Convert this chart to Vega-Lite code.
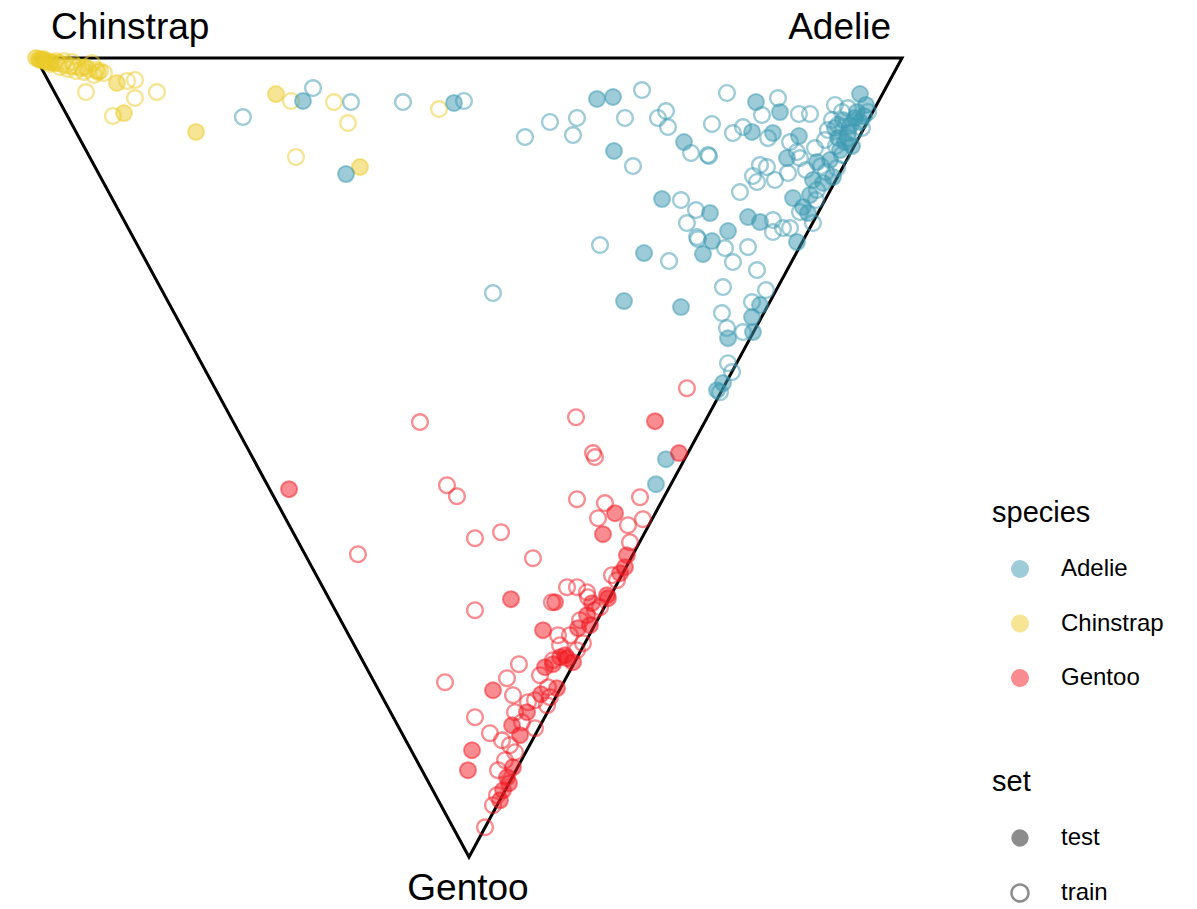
{
  "$schema": "https://vega.github.io/schema/vega-lite/v6.json",
  "width": 866,
  "height": 799,
  "autosize": {"type": "none"},
  "padding": {"left": 36, "top": 58, "right": 295, "bottom": 52},
  "background": "white",
  "config": {"view": {"stroke": null}, "font": "Liberation Sans"},
  "encoding": {
    "x": {"field": "x", "type": "quantitative", "scale": {"domain": [0, 100], "nice": false, "zero": false}, "axis": null},
    "y": {"field": "y", "type": "quantitative", "scale": {"domain": [0, 100], "nice": false, "zero": false, "reverse": true}, "axis": null}
  },
  "layer": [
    {
      "data": {"values": [
        {"corner": "Chinstrap", "order": 1, "x": 0, "y": 0},
        {"corner": "Adelie", "order": 2, "x": 100, "y": 0},
        {"corner": "Gentoo", "order": 3, "x": 50, "y": 100},
        {"corner": "Chinstrap", "order": 4, "x": 0, "y": 0}
      ]},
      "mark": {"type": "line", "color": "black", "strokeWidth": 3, "strokeJoin": "miter", "strokeCap": "square"},
      "encoding": {"order": {"field": "order", "type": "quantitative"}}
    },
    {
      "data": {"values": [
        {"species":"Chinstrap","set":"test","x":0,"y":0},
        {"species":"Chinstrap","set":"test","x":0.35,"y":0.13},
        {"species":"Chinstrap","set":"test","x":0.69,"y":0.25},
        {"species":"Chinstrap","set":"test","x":1.04,"y":0.38},
        {"species":"Chinstrap","set":"test","x":1.39,"y":0.5},
        {"species":"Chinstrap","set":"test","x":1.73,"y":0.5},
        {"species":"Chinstrap","set":"test","x":0.46,"y":0.25},
        {"species":"Chinstrap","set":"test","x":0.92,"y":0.13},
        {"species":"Chinstrap","set":"test","x":2.08,"y":0.63},
        {"species":"Chinstrap","set":"test","x":9.35,"y":3.13},
        {"species":"Chinstrap","set":"test","x":10.16,"y":6.89},
        {"species":"Chinstrap","set":"test","x":18.48,"y":9.26},
        {"species":"Chinstrap","set":"test","x":27.71,"y":4.51},
        {"species":"Chinstrap","set":"test","x":37.41,"y":13.65},
        {"species":"Chinstrap","set":"test","x":7.16,"y":1.75},
        {"species":"Chinstrap","set":"test","x":5.66,"y":1.13},
        {"species":"Chinstrap","set":"train","x":2.54,"y":0.63},
        {"species":"Chinstrap","set":"train","x":3.0,"y":0.75},
        {"species":"Chinstrap","set":"train","x":3.46,"y":0.88},
        {"species":"Chinstrap","set":"train","x":3.93,"y":1.0},
        {"species":"Chinstrap","set":"train","x":4.39,"y":1.0},
        {"species":"Chinstrap","set":"train","x":4.85,"y":1.13},
        {"species":"Chinstrap","set":"train","x":5.31,"y":1.25},
        {"species":"Chinstrap","set":"train","x":6.0,"y":1.38},
        {"species":"Chinstrap","set":"train","x":6.47,"y":0.63},
        {"species":"Chinstrap","set":"train","x":6.93,"y":1.5},
        {"species":"Chinstrap","set":"train","x":7.39,"y":1.63},
        {"species":"Chinstrap","set":"train","x":7.85,"y":1.88},
        {"species":"Chinstrap","set":"train","x":2.77,"y":1.13},
        {"species":"Chinstrap","set":"train","x":3.7,"y":1.38},
        {"species":"Chinstrap","set":"train","x":4.62,"y":1.63},
        {"species":"Chinstrap","set":"train","x":5.54,"y":1.75},
        {"species":"Chinstrap","set":"train","x":6.7,"y":2.13},
        {"species":"Chinstrap","set":"train","x":5.77,"y":4.26},
        {"species":"Chinstrap","set":"train","x":10.51,"y":2.88},
        {"species":"Chinstrap","set":"train","x":11.43,"y":2.75},
        {"species":"Chinstrap","set":"train","x":13.97,"y":4.26},
        {"species":"Chinstrap","set":"train","x":11.43,"y":5.01},
        {"species":"Chinstrap","set":"train","x":8.89,"y":7.26},
        {"species":"Chinstrap","set":"train","x":29.45,"y":5.38},
        {"species":"Chinstrap","set":"train","x":34.41,"y":5.51},
        {"species":"Chinstrap","set":"train","x":36.03,"y":8.14},
        {"species":"Chinstrap","set":"train","x":30.02,"y":12.39},
        {"species":"Chinstrap","set":"train","x":46.54,"y":6.39},
        {"species":"Chinstrap","set":"train","x":1.62,"y":0.75},
        {"species":"Chinstrap","set":"train","x":2.31,"y":0.38},
        {"species":"Chinstrap","set":"train","x":3.23,"y":0.38},
        {"species":"Chinstrap","set":"train","x":4.16,"y":0.5},
        {"species":"Adelie","set":"test","x":30.83,"y":5.38},
        {"species":"Adelie","set":"test","x":35.8,"y":14.52},
        {"species":"Adelie","set":"test","x":48.27,"y":5.63},
        {"species":"Adelie","set":"test","x":64.78,"y":5.13},
        {"species":"Adelie","set":"test","x":66.63,"y":4.88},
        {"species":"Adelie","set":"test","x":66.74,"y":11.64},
        {"species":"Adelie","set":"test","x":74.83,"y":10.52},
        {"species":"Adelie","set":"test","x":83.14,"y":5.51},
        {"species":"Adelie","set":"test","x":85.91,"y":6.76},
        {"species":"Adelie","set":"test","x":95.15,"y":4.51},
        {"species":"Adelie","set":"test","x":95.84,"y":5.88},
        {"species":"Adelie","set":"test","x":82.68,"y":9.26},
        {"species":"Adelie","set":"test","x":85.1,"y":9.39},
        {"species":"Adelie","set":"test","x":88.1,"y":9.77},
        {"species":"Adelie","set":"test","x":86.72,"y":12.52},
        {"species":"Adelie","set":"test","x":90.18,"y":13.02},
        {"species":"Adelie","set":"test","x":89.72,"y":15.27},
        {"species":"Adelie","set":"test","x":90.88,"y":15.65},
        {"species":"Adelie","set":"test","x":92.03,"y":14.9},
        {"species":"Adelie","set":"test","x":87.41,"y":17.53},
        {"species":"Adelie","set":"test","x":88.57,"y":18.65},
        {"species":"Adelie","set":"test","x":89.14,"y":19.41},
        {"species":"Adelie","set":"test","x":87.87,"y":23.04},
        {"species":"Adelie","set":"test","x":72.29,"y":17.65},
        {"species":"Adelie","set":"test","x":77.83,"y":19.41},
        {"species":"Adelie","set":"test","x":79.91,"y":21.66},
        {"species":"Adelie","set":"test","x":78.06,"y":22.91},
        {"species":"Adelie","set":"test","x":77.02,"y":24.54},
        {"species":"Adelie","set":"test","x":82.22,"y":19.91},
        {"species":"Adelie","set":"test","x":83.6,"y":20.53},
        {"species":"Adelie","set":"test","x":70.21,"y":24.41},
        {"species":"Adelie","set":"test","x":67.9,"y":30.42},
        {"species":"Adelie","set":"test","x":74.48,"y":31.17},
        {"species":"Adelie","set":"test","x":83.6,"y":30.92},
        {"species":"Adelie","set":"test","x":82.68,"y":32.43},
        {"species":"Adelie","set":"test","x":79.91,"y":35.06},
        {"species":"Adelie","set":"test","x":82.79,"y":34.3},
        {"species":"Adelie","set":"test","x":78.64,"y":41.57},
        {"species":"Adelie","set":"test","x":79.33,"y":40.69},
        {"species":"Adelie","set":"test","x":72.75,"y":50.21},
        {"species":"Adelie","set":"test","x":71.59,"y":53.34},
        {"species":"Adelie","set":"test","x":93.19,"y":7.76},
        {"species":"Adelie","set":"test","x":93.99,"y":8.51},
        {"species":"Adelie","set":"test","x":94.57,"y":7.51},
        {"species":"Adelie","set":"test","x":95.15,"y":8.01},
        {"species":"Adelie","set":"test","x":93.76,"y":9.39},
        {"species":"Adelie","set":"test","x":92.61,"y":10.02},
        {"species":"Adelie","set":"test","x":93.42,"y":10.52},
        {"species":"Adelie","set":"test","x":94.23,"y":11.02},
        {"species":"Adelie","set":"test","x":92.84,"y":11.52},
        {"species":"Adelie","set":"test","x":94.8,"y":6.76},
        {"species":"Adelie","set":"test","x":95.61,"y":7.26},
        {"species":"Adelie","set":"test","x":92.26,"y":8.76},
        {"species":"Adelie","set":"test","x":91.69,"y":12.77},
        {"species":"Adelie","set":"test","x":89.38,"y":17.15},
        {"species":"Adelie","set":"train","x":23.9,"y":7.39},
        {"species":"Adelie","set":"train","x":31.99,"y":3.76},
        {"species":"Adelie","set":"train","x":36.37,"y":5.51},
        {"species":"Adelie","set":"train","x":42.38,"y":5.51},
        {"species":"Adelie","set":"train","x":49.42,"y":5.38},
        {"species":"Adelie","set":"train","x":69.98,"y":4.01},
        {"species":"Adelie","set":"train","x":79.79,"y":4.38},
        {"species":"Adelie","set":"train","x":85.68,"y":5.01},
        {"species":"Adelie","set":"train","x":83.83,"y":7.14},
        {"species":"Adelie","set":"train","x":88.1,"y":7.01},
        {"species":"Adelie","set":"train","x":89.38,"y":7.01},
        {"species":"Adelie","set":"train","x":92.26,"y":5.88},
        {"species":"Adelie","set":"train","x":59.35,"y":8.01},
        {"species":"Adelie","set":"train","x":62.47,"y":7.51},
        {"species":"Adelie","set":"train","x":56.47,"y":9.89},
        {"species":"Adelie","set":"train","x":62.01,"y":9.64},
        {"species":"Adelie","set":"train","x":68.01,"y":7.51},
        {"species":"Adelie","set":"train","x":71.82,"y":7.51},
        {"species":"Adelie","set":"train","x":72.75,"y":6.64},
        {"species":"Adelie","set":"train","x":72.98,"y":8.64},
        {"species":"Adelie","set":"train","x":75.64,"y":11.89},
        {"species":"Adelie","set":"train","x":77.71,"y":12.27},
        {"species":"Adelie","set":"train","x":68.94,"y":13.52},
        {"species":"Adelie","set":"train","x":78.06,"y":8.26},
        {"species":"Adelie","set":"train","x":80.48,"y":9.39},
        {"species":"Adelie","set":"train","x":81.64,"y":8.64},
        {"species":"Adelie","set":"train","x":84.53,"y":10.02},
        {"species":"Adelie","set":"train","x":87.07,"y":10.52},
        {"species":"Adelie","set":"train","x":87.87,"y":11.77},
        {"species":"Adelie","set":"train","x":88.22,"y":12.52},
        {"species":"Adelie","set":"train","x":89.95,"y":11.27},
        {"species":"Adelie","set":"train","x":83.6,"y":13.4},
        {"species":"Adelie","set":"train","x":84.41,"y":13.65},
        {"species":"Adelie","set":"train","x":82.79,"y":14.77},
        {"species":"Adelie","set":"train","x":83.26,"y":15.52},
        {"species":"Adelie","set":"train","x":85.33,"y":15.27},
        {"species":"Adelie","set":"train","x":86.84,"y":14.4},
        {"species":"Adelie","set":"train","x":81.29,"y":16.78},
        {"species":"Adelie","set":"train","x":74.48,"y":17.78},
        {"species":"Adelie","set":"train","x":76.21,"y":19.03},
        {"species":"Adelie","set":"train","x":75.17,"y":20.66},
        {"species":"Adelie","set":"train","x":76.44,"y":22.66},
        {"species":"Adelie","set":"train","x":79.56,"y":23.79},
        {"species":"Adelie","set":"train","x":80.48,"y":25.54},
        {"species":"Adelie","set":"train","x":82.22,"y":23.66},
        {"species":"Adelie","set":"train","x":85.1,"y":20.28},
        {"species":"Adelie","set":"train","x":85.1,"y":21.78},
        {"species":"Adelie","set":"train","x":83.26,"y":26.54},
        {"species":"Adelie","set":"train","x":65.13,"y":23.41},
        {"species":"Adelie","set":"train","x":73.1,"y":25.42},
        {"species":"Adelie","set":"train","x":52.77,"y":29.42},
        {"species":"Adelie","set":"train","x":76.33,"y":22.41},
        {"species":"Adelie","set":"train","x":87.07,"y":21.28},
        {"species":"Adelie","set":"train","x":79.33,"y":28.67},
        {"species":"Adelie","set":"train","x":84.3,"y":29.05},
        {"species":"Adelie","set":"train","x":82.68,"y":30.55},
        {"species":"Adelie","set":"train","x":79.21,"y":31.93},
        {"species":"Adelie","set":"train","x":79.79,"y":33.8},
        {"species":"Adelie","set":"train","x":81.64,"y":34.3},
        {"species":"Adelie","set":"train","x":79.91,"y":38.19},
        {"species":"Adelie","set":"train","x":80.37,"y":39.31},
        {"species":"Adelie","set":"train","x":78.98,"y":41.82},
        {"species":"Adelie","set":"train","x":89.72,"y":20.66},
        {"species":"Adelie","set":"train","x":88.22,"y":19.28},
        {"species":"Adelie","set":"train","x":90.18,"y":16.53},
        {"species":"Adelie","set":"train","x":92.49,"y":13.77},
        {"species":"Adelie","set":"train","x":91.11,"y":10.27},
        {"species":"Adelie","set":"train","x":86.26,"y":21.28},
        {"species":"Adelie","set":"train","x":77.6,"y":12.14},
        {"species":"Adelie","set":"train","x":93.07,"y":6.76},
        {"species":"Adelie","set":"train","x":93.76,"y":6.26},
        {"species":"Adelie","set":"train","x":91.92,"y":7.76},
        {"species":"Adelie","set":"train","x":92.61,"y":8.39},
        {"species":"Adelie","set":"train","x":94.46,"y":9.26},
        {"species":"Adelie","set":"train","x":91.45,"y":9.01},
        {"species":"Adelie","set":"train","x":92.38,"y":11.02},
        {"species":"Adelie","set":"train","x":93.07,"y":12.14},
        {"species":"Adelie","set":"train","x":90.65,"y":13.52},
        {"species":"Adelie","set":"train","x":91.22,"y":14.27},
        {"species":"Adelie","set":"train","x":90.07,"y":17.78},
        {"species":"Adelie","set":"train","x":93.76,"y":10.02},
        {"species":"Adelie","set":"train","x":95.38,"y":8.76},
        {"species":"Adelie","set":"train","x":96.07,"y":6.76},
        {"species":"Adelie","set":"train","x":88.91,"y":14.02},
        {"species":"Gentoo","set":"test","x":29.22,"y":53.96},
        {"species":"Gentoo","set":"test","x":71.48,"y":45.45},
        {"species":"Gentoo","set":"test","x":74.25,"y":49.45},
        {"species":"Gentoo","set":"test","x":66.86,"y":56.97},
        {"species":"Gentoo","set":"test","x":65.47,"y":59.6},
        {"species":"Gentoo","set":"test","x":68.24,"y":62.22},
        {"species":"Gentoo","set":"test","x":68.01,"y":63.73},
        {"species":"Gentoo","set":"test","x":67.44,"y":64.48},
        {"species":"Gentoo","set":"test","x":59.93,"y":68.11},
        {"species":"Gentoo","set":"test","x":65.94,"y":67.23},
        {"species":"Gentoo","set":"test","x":66.05,"y":67.61},
        {"species":"Gentoo","set":"test","x":63.63,"y":69.74},
        {"species":"Gentoo","set":"test","x":63.97,"y":70.99},
        {"species":"Gentoo","set":"test","x":58.55,"y":71.61},
        {"species":"Gentoo","set":"test","x":54.85,"y":67.73},
        {"species":"Gentoo","set":"test","x":60.51,"y":75.0},
        {"species":"Gentoo","set":"test","x":61.32,"y":75.12},
        {"species":"Gentoo","set":"test","x":62.01,"y":75.62},
        {"species":"Gentoo","set":"test","x":58.78,"y":76.25},
        {"species":"Gentoo","set":"test","x":52.77,"y":79.13},
        {"species":"Gentoo","set":"test","x":60.16,"y":78.88},
        {"species":"Gentoo","set":"test","x":56.7,"y":81.88},
        {"species":"Gentoo","set":"test","x":54.97,"y":83.51},
        {"species":"Gentoo","set":"test","x":50.35,"y":86.64},
        {"species":"Gentoo","set":"test","x":49.88,"y":89.14},
        {"species":"Gentoo","set":"test","x":55.08,"y":88.77},
        {"species":"Gentoo","set":"test","x":54.39,"y":90.02},
        {"species":"Gentoo","set":"test","x":53.93,"y":91.65},
        {"species":"Gentoo","set":"test","x":53.58,"y":92.9},
        {"species":"Gentoo","set":"test","x":61.09,"y":74.74},
        {"species":"Gentoo","set":"test","x":59.7,"y":75.87},
        {"species":"Gentoo","set":"test","x":54.62,"y":90.77},
        {"species":"Gentoo","set":"test","x":55.89,"y":84.76},
        {"species":"Gentoo","set":"test","x":58.31,"y":79.63},
        {"species":"Gentoo","set":"test","x":62.59,"y":71.36},
        {"species":"Gentoo","set":"test","x":64.2,"y":68.23},
        {"species":"Gentoo","set":"train","x":75.17,"y":41.32},
        {"species":"Gentoo","set":"train","x":44.34,"y":45.57},
        {"species":"Gentoo","set":"train","x":62.36,"y":44.95},
        {"species":"Gentoo","set":"train","x":64.32,"y":49.45},
        {"species":"Gentoo","set":"train","x":64.55,"y":49.95},
        {"species":"Gentoo","set":"train","x":47.46,"y":53.46},
        {"species":"Gentoo","set":"train","x":48.61,"y":54.84},
        {"species":"Gentoo","set":"train","x":62.47,"y":55.21},
        {"species":"Gentoo","set":"train","x":65.7,"y":55.71},
        {"species":"Gentoo","set":"train","x":69.75,"y":54.96},
        {"species":"Gentoo","set":"train","x":64.9,"y":57.59},
        {"species":"Gentoo","set":"train","x":70.09,"y":57.72},
        {"species":"Gentoo","set":"train","x":68.36,"y":58.47},
        {"species":"Gentoo","set":"train","x":68.59,"y":60.6},
        {"species":"Gentoo","set":"train","x":53.7,"y":59.34},
        {"species":"Gentoo","set":"train","x":50.69,"y":60.1},
        {"species":"Gentoo","set":"train","x":37.18,"y":62.1},
        {"species":"Gentoo","set":"train","x":57.39,"y":62.6},
        {"species":"Gentoo","set":"train","x":61.32,"y":66.23},
        {"species":"Gentoo","set":"train","x":62.47,"y":66.23},
        {"species":"Gentoo","set":"train","x":63.63,"y":66.86},
        {"species":"Gentoo","set":"train","x":63.74,"y":67.48},
        {"species":"Gentoo","set":"train","x":59.58,"y":68.11},
        {"species":"Gentoo","set":"train","x":65.13,"y":68.73},
        {"species":"Gentoo","set":"train","x":50.69,"y":69.11},
        {"species":"Gentoo","set":"train","x":60.28,"y":72.24},
        {"species":"Gentoo","set":"train","x":61.66,"y":72.24},
        {"species":"Gentoo","set":"train","x":63.16,"y":73.24},
        {"species":"Gentoo","set":"train","x":59.7,"y":75.37},
        {"species":"Gentoo","set":"train","x":62.47,"y":74.12},
        {"species":"Gentoo","set":"train","x":55.77,"y":75.87},
        {"species":"Gentoo","set":"train","x":54.39,"y":77.62},
        {"species":"Gentoo","set":"train","x":47.23,"y":78.12},
        {"species":"Gentoo","set":"train","x":55.08,"y":79.75},
        {"species":"Gentoo","set":"train","x":59.12,"y":78.75},
        {"species":"Gentoo","set":"train","x":59.35,"y":80.0},
        {"species":"Gentoo","set":"train","x":59.01,"y":81.0},
        {"species":"Gentoo","set":"train","x":50.69,"y":82.51},
        {"species":"Gentoo","set":"train","x":52.42,"y":84.51},
        {"species":"Gentoo","set":"train","x":57.62,"y":83.88},
        {"species":"Gentoo","set":"train","x":53.81,"y":85.39},
        {"species":"Gentoo","set":"train","x":56.12,"y":83.13},
        {"species":"Gentoo","set":"train","x":55.31,"y":86.89},
        {"species":"Gentoo","set":"train","x":52.77,"y":93.52},
        {"species":"Gentoo","set":"train","x":51.85,"y":96.28},
        {"species":"Gentoo","set":"train","x":58.2,"y":77.25},
        {"species":"Gentoo","set":"train","x":57.62,"y":80.38},
        {"species":"Gentoo","set":"train","x":54.73,"y":86.01},
        {"species":"Gentoo","set":"train","x":54.16,"y":87.89},
        {"species":"Gentoo","set":"train","x":53.35,"y":89.14},
        {"species":"Gentoo","set":"train","x":53.23,"y":92.27},
        {"species":"Gentoo","set":"train","x":60.51,"y":73.49},
        {"species":"Gentoo","set":"train","x":62.82,"y":70.36},
        {"species":"Gentoo","set":"train","x":64.55,"y":69.11},
        {"species":"Gentoo","set":"train","x":67.09,"y":65.35},
        {"species":"Gentoo","set":"train","x":66.51,"y":64.73},
        {"species":"Gentoo","set":"train","x":56.81,"y":80.63},
        {"species":"Gentoo","set":"train","x":55.31,"y":81.88}
      ]},
      "mark": {"type": "point", "filled": true, "size": 256, "strokeWidth": 2, "fillOpacity": 0.5, "opacity": 1},
      "encoding": {
        "fill": {
          "field": "species", "type": "nominal",
          "scale": {"domain": ["Adelie", "Chinstrap", "Gentoo"], "range": ["#3B9AB2", "#EBCC2A", "#F21A22"]},
          "legend": {
            "title": "species", "orient": "none", "legendX": 956, "legendY": 441,
            "padding": 0, "titleFontSize": 29, "titleFontWeight": "normal", "titleColor": "black", "titlePadding": 29,
            "labelFontSize": 24, "labelColor": "black", "labelOffset": 29, "symbolOffset": 16,
            "symbolSize": 324, "symbolType": "circle", "symbolStrokeWidth": 0, "symbolOpacity": 0.5, "rowPadding": 30.5
          }
        },
        "stroke": {
          "field": "species", "type": "nominal",
          "scale": {"domain": ["Adelie", "Chinstrap", "Gentoo"], "range": ["#3B9AB2", "#EBCC2A", "#F21A22"]},
          "legend": null
        },
        "strokeOpacity": {"condition": {"test": "datum.set === 'test'", "value": 0.5}, "value": 0},
        "shape": {
          "field": "set", "type": "nominal",
          "scale": {"domain": ["test", "train"], "range": ["circle", "M-1.125,0A1.125,1.125,0,1,0,1.125,0A1.125,1.125,0,1,0,-1.125,0ZM-0.83,0A0.83,0.83,0,1,1,0.83,0A0.83,0.83,0,1,1,-0.83,0Z"]},
          "legend": {
            "title": "set", "orient": "none", "legendX": 956, "legendY": 710,
            "padding": 0, "titleFontSize": 29, "titleFontWeight": "normal", "titleColor": "black", "titlePadding": 29,
            "labelFontSize": 24, "labelColor": "black", "labelOffset": 29, "symbolOffset": 16,
            "symbolSize": 300, "symbolFillColor": "black", "symbolStrokeColor": "black", "symbolStrokeWidth": 0, "symbolOpacity": 0.45, "rowPadding": 31
          }
        }
      }
    },
    {
      "data": {"values": [{"corner": "Chinstrap", "x": 0, "y": 0}]},
      "mark": {"type": "text", "align": "left", "baseline": "alphabetic", "dx": 15, "dy": -19, "fontSize": 37, "color": "black"},
      "encoding": {"text": {"field": "corner"}}
    },
    {
      "data": {"values": [{"corner": "Adelie", "x": 100, "y": 0}]},
      "mark": {"type": "text", "align": "right", "baseline": "alphabetic", "dx": -11, "dy": -19, "fontSize": 37, "color": "black"},
      "encoding": {"text": {"field": "corner"}}
    },
    {
      "data": {"values": [{"corner": "Gentoo", "x": 50, "y": 100}]},
      "mark": {"type": "text", "align": "center", "baseline": "alphabetic", "dx": -1, "dy": 43, "fontSize": 37, "color": "black"},
      "encoding": {"text": {"field": "corner"}}
    }
  ]
}
